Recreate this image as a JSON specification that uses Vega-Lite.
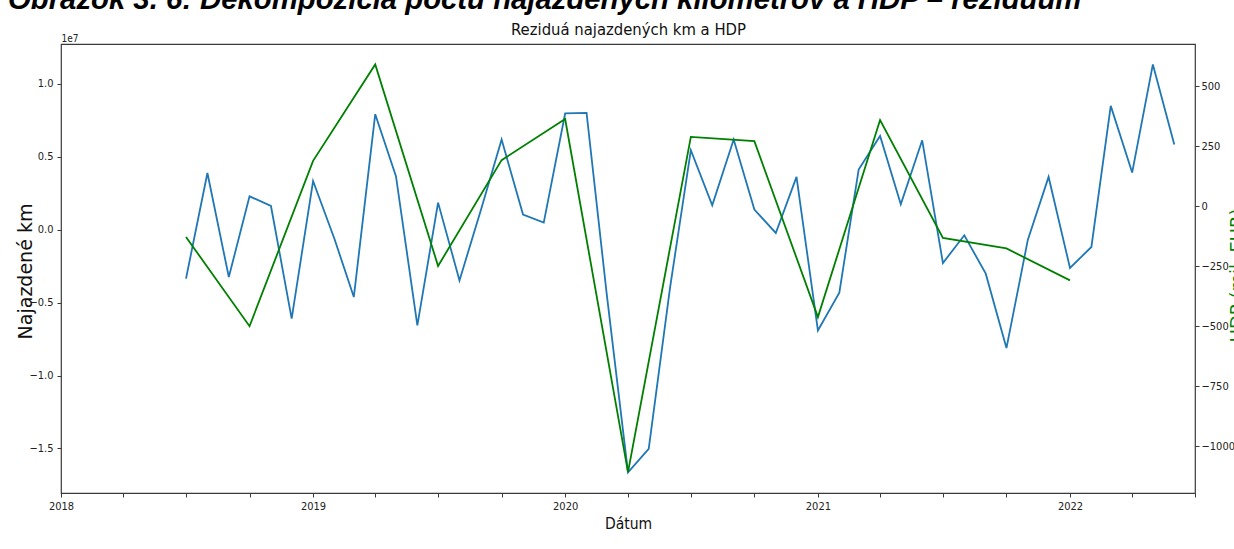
{
  "$schema": "https://vega.github.io/schema/vega-lite/v6.json",
  "width": 1134,
  "height": 449,
  "autosize": {"type": "none"},
  "padding": {"left": 61, "top": 44, "right": 39, "bottom": 56},
  "background": "white",
  "title": {
    "text": "Obrázok 3. 6: Dekompozícia počtu najazdených kilometrov a HDP – reziduum",
    "anchor": "start",
    "frame": "group",
    "dx": -53,
    "dy": 33,
    "offset": 16,
    "baseline": "alphabetic",
    "font": "Liberation Sans",
    "fontSize": 29.3,
    "fontStyle": "italic",
    "fontWeight": "bold",
    "color": "black"
  },
  "datasets": {
    "km": [
      {"date": "2018-07-01", "km": -3360000},
      {"date": "2018-08-01", "km": 3880000},
      {"date": "2018-09-01", "km": -3250000},
      {"date": "2018-10-01", "km": 2280000},
      {"date": "2018-11-01", "km": 1620000},
      {"date": "2018-12-01", "km": -6100000},
      {"date": "2019-01-01", "km": 3330000},
      {"date": "2019-02-01", "km": -640000},
      {"date": "2019-03-01", "km": -4620000},
      {"date": "2019-04-01", "km": 7910000},
      {"date": "2019-05-01", "km": 3660000},
      {"date": "2019-06-01", "km": -6560000},
      {"date": "2019-07-01", "km": 1850000},
      {"date": "2019-08-01", "km": -3480000},
      {"date": "2019-09-01", "km": 1340000},
      {"date": "2019-10-01", "km": 6170000},
      {"date": "2019-11-01", "km": 1030000},
      {"date": "2019-12-01", "km": 480000},
      {"date": "2020-01-01", "km": 7960000},
      {"date": "2020-02-01", "km": 8000000},
      {"date": "2020-03-01", "km": -4330000},
      {"date": "2020-04-01", "km": -16630000},
      {"date": "2020-05-01", "km": -15020000},
      {"date": "2020-06-01", "km": -3940000},
      {"date": "2020-07-01", "km": 5440000},
      {"date": "2020-08-01", "km": 1670000},
      {"date": "2020-09-01", "km": 6170000},
      {"date": "2020-10-01", "km": 1370000},
      {"date": "2020-11-01", "km": -230000},
      {"date": "2020-12-01", "km": 3610000},
      {"date": "2021-01-01", "km": -6910000},
      {"date": "2021-02-01", "km": -4320000},
      {"date": "2021-03-01", "km": 4120000},
      {"date": "2021-04-01", "km": 6420000},
      {"date": "2021-05-01", "km": 1740000},
      {"date": "2021-06-01", "km": 6120000},
      {"date": "2021-07-01", "km": -2290000},
      {"date": "2021-08-01", "km": -390000},
      {"date": "2021-09-01", "km": -3020000},
      {"date": "2021-10-01", "km": -8120000},
      {"date": "2021-11-01", "km": -690000},
      {"date": "2021-12-01", "km": 3610000},
      {"date": "2022-01-01", "km": -2630000},
      {"date": "2022-02-01", "km": -1190000},
      {"date": "2022-03-01", "km": 8480000},
      {"date": "2022-04-01", "km": 3910000},
      {"date": "2022-05-01", "km": 11320000},
      {"date": "2022-06-01", "km": 5830000}
    ],
    "hdp": [
      {"date": "2018-07-01", "hdp": -128},
      {"date": "2018-10-01", "hdp": -500},
      {"date": "2019-01-01", "hdp": 189},
      {"date": "2019-04-01", "hdp": 591},
      {"date": "2019-07-01", "hdp": -249},
      {"date": "2019-10-01", "hdp": 192},
      {"date": "2020-01-01", "hdp": 363},
      {"date": "2020-04-01", "hdp": -1108},
      {"date": "2020-07-01", "hdp": 289},
      {"date": "2020-10-01", "hdp": 271},
      {"date": "2021-01-01", "hdp": -462},
      {"date": "2021-04-01", "hdp": 359},
      {"date": "2021-07-01", "hdp": -132},
      {"date": "2021-10-01", "hdp": -176},
      {"date": "2022-01-01", "hdp": -309}
    ]
  },
  "layer": [
    {
      "data": {"name": "km"},
      "mark": {"type": "line", "color": "#1f77b4", "strokeWidth": 1.8},
      "encoding": {
        "x": {
          "field": "date",
          "type": "temporal",
          "scale": {
            "type": "utc",
            "domain": [
              {"year": 2018, "month": 1, "date": 1, "utc": true},
              {"year": 2022, "month": 7, "date": 1, "utc": true}
            ]
          },
          "axis": {
            "orient": "bottom",
            "values": [
              {"year": 2018, "month": 1, "date": 1, "utc": true},
              {"year": 2018, "month": 4, "date": 1, "utc": true},
              {"year": 2018, "month": 7, "date": 1, "utc": true},
              {"year": 2018, "month": 10, "date": 1, "utc": true},
              {"year": 2019, "month": 1, "date": 1, "utc": true},
              {"year": 2019, "month": 4, "date": 1, "utc": true},
              {"year": 2019, "month": 7, "date": 1, "utc": true},
              {"year": 2019, "month": 10, "date": 1, "utc": true},
              {"year": 2020, "month": 1, "date": 1, "utc": true},
              {"year": 2020, "month": 4, "date": 1, "utc": true},
              {"year": 2020, "month": 7, "date": 1, "utc": true},
              {"year": 2020, "month": 10, "date": 1, "utc": true},
              {"year": 2021, "month": 1, "date": 1, "utc": true},
              {"year": 2021, "month": 4, "date": 1, "utc": true},
              {"year": 2021, "month": 7, "date": 1, "utc": true},
              {"year": 2021, "month": 10, "date": 1, "utc": true},
              {"year": 2022, "month": 1, "date": 1, "utc": true},
              {"year": 2022, "month": 4, "date": 1, "utc": true},
              {"year": 2022, "month": 7, "date": 1, "utc": true}
            ],
            "labelExpr": "utcmonth(datum.value) == 0 ? utcFormat(datum.value, '%Y') : ''",
            "tickSize": 4,
            "labelPadding": 3,
            "labelFlush": false,
            "labelOverlap": false,
            "title": "Dátum",
            "titleFontSize": 15.5,
            "titleY": 35,
            "titleBaseline": "alphabetic"
          }
        },
        "y": {
          "field": "km",
          "type": "quantitative",
          "scale": {"domain": [-18050000, 12720000], "nice": false, "zero": false},
          "axis": {
            "orient": "left",
            "values": [-15000000, -10000000, -5000000, 0, 5000000, 10000000],
            "labelExpr": "format(datum.value / 10000000, '.1f')",
            "tickSize": 4,
            "labelPadding": 4,
            "title": "Najazdené km",
            "titleFont": "DejaVu Sans",
            "titleFontSize": 19,
            "titleAngle": 270,
            "titleX": -36,
            "titleY": 227,
            "titleAlign": "center",
            "titleBaseline": "middle"
          }
        }
      }
    },
    {
      "data": {"name": "hdp"},
      "mark": {"type": "line", "color": "green", "strokeWidth": 1.8},
      "encoding": {
        "x": {
          "field": "date",
          "type": "temporal",
          "axis": {
            "orient": "top",
            "values": [{"year": 2018, "month": 1, "date": 1, "utc": true}],
            "labelExpr": "'1e7'",
            "labelAlign": "left",
            "labelBaseline": "alphabetic",
            "labelPadding": 3,
            "labelFontSize": 10,
            "labelFlush": false,
            "ticks": false,
            "title": "Reziduá najazdených km a HDP",
            "titleFontSize": 16.5,
            "titleY": -10,
            "titleBaseline": "alphabetic"
          }
        },
        "y": {
          "field": "hdp",
          "type": "quantitative",
          "scale": {"domain": [-1195, 676], "nice": false, "zero": false},
          "axis": {
            "orient": "right",
            "values": [-1000, -750, -500, -250, 0, 250, 500],
            "format": "d",
            "tickSize": 4,
            "labelPadding": 2,
            "title": "HDP (mil. EUR)",
            "titleFont": "DejaVu Sans",
            "titleFontSize": 18,
            "titleColor": "green",
            "titleAngle": 270,
            "titleX": 33,
            "titleY": 231,
            "titleAlign": "center",
            "titleBaseline": "top"
          }
        }
      }
    }
  ],
  "resolve": {"scale": {"y": "independent"}, "axis": {"x": "independent", "y": "independent"}},
  "config": {
    "view": {"stroke": "#3a3a3a", "strokeWidth": 1.2},
    "axis": {
      "grid": false,
      "domain": false,
      "tickColor": "#3a3a3a",
      "tickWidth": 1,
      "labelColor": "#222222",
      "labelFont": "Liberation Sans Narrow, DejaVu Sans Condensed, sans-serif",
      "labelFontSize": 11,
      "titleFont": "DejaVu Sans Condensed, DejaVu Sans, sans-serif",
      "titleFontWeight": "normal",
      "titleColor": "#111111"
    }
  }
}
